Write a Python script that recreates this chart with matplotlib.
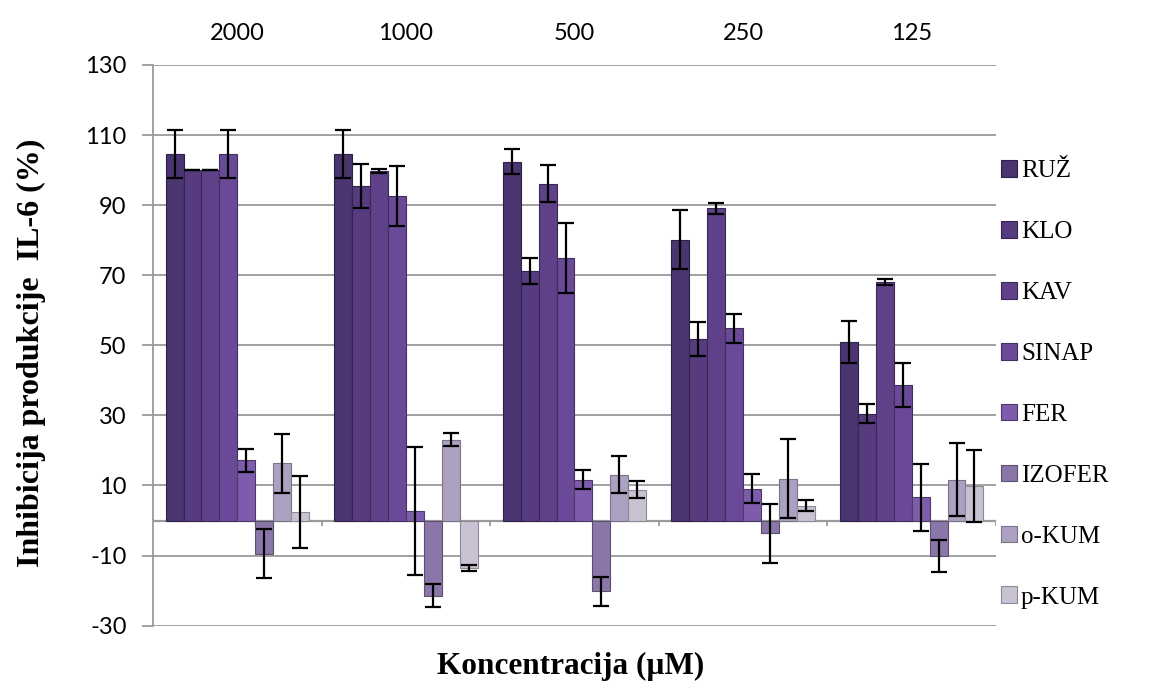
import numpy as np
import matplotlib
matplotlib.use("Agg")
import matplotlib.pyplot as plt

concentrations = ["2000", "1000", "500", "250", "125"]
series = ["RUŽ", "KLO", "KAV", "SINAP", "FER", "IZOFER", "o-KUM", "p-KUM"]

# inhibition (%) per series, one value per concentration
values = {
    "RUŽ":    [104.6, 104.6, 102.4, 80.1, 51.0],
    "KLO":    [100.0, 95.4, 71.2, 51.9, 30.5],
    "KAV":    [100.0, 99.8, 96.1, 89.1, 68.1],
    "SINAP":  [104.6, 92.7, 74.9, 54.9, 38.7],
    "FER":    [17.2, 2.7, 11.7, 9.1, 6.6],
    "IZOFER": [-9.5, -21.4, -20.2, -3.6, -10.2],
    "o-KUM":  [16.3, 23.1, 13.1, 11.9, 11.7],
    "p-KUM":  [2.5, -13.6, 8.8, 4.2, 9.9],
}
errors = {
    "RUŽ":    [6.8, 6.8, 3.6, 8.4, 6.0],
    "KLO":    [0.0, 6.3, 3.7, 4.9, 2.8],
    "KAV":    [0.0, 0.5, 5.3, 1.6, 0.8],
    "SINAP":  [6.8, 8.6, 9.9, 4.1, 6.3],
    "FER":    [3.3, 18.2, 2.6, 4.2, 9.5],
    "IZOFER": [7.0, 3.3, 4.1, 8.4, 4.6],
    "o-KUM":  [8.5, 1.8, 5.2, 11.3, 10.4],
    "p-KUM":  [10.2, 0.8, 2.5, 1.6, 10.2],
}
colors = ["#4a3570", "#563b7e", "#5e4188", "#6a4a98", "#7d5cab",
          "#8b76aa", "#aca1c0", "#c8c2d2"]
edges = ["#2e2046", "#35244f", "#3a2856", "#41305e", "#4d3a6a",
         "#5c506f", "#7a7287", "#8e8996"]
yticks = [-30, -10, 10, 30, 50, 70, 90, 110, 130]

fig = plt.figure(figsize=(11.64, 6.82), dpi=100)
ax = fig.add_axes([0.1314, 0.0826, 0.7243, 0.8221])

x = np.arange(len(concentrations))
n = len(series)
w = 0.85 / n
grid_c = "#9a9a9a"

for i, s in enumerate(series):
    pos = x + (i - (n - 1) / 2) * w
    ax.bar(pos, values[s], w, color=colors[i], edgecolor=edges[i], linewidth=0.8,
           label=s, zorder=3)
    ax.errorbar(pos, values[s], yerr=errors[s], fmt="none", ecolor="black",
                elinewidth=1.6, capsize=5.5, capthick=1.6, zorder=4)

ax.set_xlim(-0.5, len(concentrations) - 0.5)
ax.set_ylim(-30, 130)
ax.set_yticks(yticks)
ax.set_yticklabels([str(t) for t in yticks], fontsize=17, family="Lato")
ax.yaxis.grid(True, color=grid_c, linewidth=1.3, zorder=0)
ax.tick_params(axis="y", length=8, width=1.3, color=grid_c, pad=11)

ax.xaxis.tick_top()
ax.set_xticks(x)
ax.set_xticklabels(concentrations, fontsize=17, family="Lato")
ax.tick_params(axis="x", length=0, pad=15)

for sp in ["top", "right", "bottom"]:
    ax.spines[sp].set_visible(False)
ax.spines["left"].set_color(grid_c)
ax.spines["left"].set_linewidth(1.3)

# category axis at zero with boundary ticks
ax.axhline(0, color=grid_c, linewidth=1.6, zorder=2)
bounds = np.arange(len(concentrations) + 1) - 0.5
ax.vlines(bounds[1:], -1.5, 0, color=grid_c, linewidth=1.3, zorder=2)

leg = fig.legend(loc="upper left", bbox_to_anchor=(0.86, 0.765), frameon=False,
                 prop={"family": "Liberation Serif", "size": 18},
                 handlelength=0.65, handleheight=0.65, handletextpad=0.15,
                 labelspacing=1.55, borderaxespad=0, borderpad=0)

fig.text(0.49, 0.023, "Koncentracija (µM)", ha="center", va="center",
         family="Liberation Serif", weight="bold", fontsize=22.5)
fig.text(0.027, 0.482, "Inhibicija produkcije  IL-6 (%)", ha="center", va="center",
         rotation=90, family="Liberation Serif", weight="bold", fontsize=23)

fig.savefig("out.png", dpi=100)
